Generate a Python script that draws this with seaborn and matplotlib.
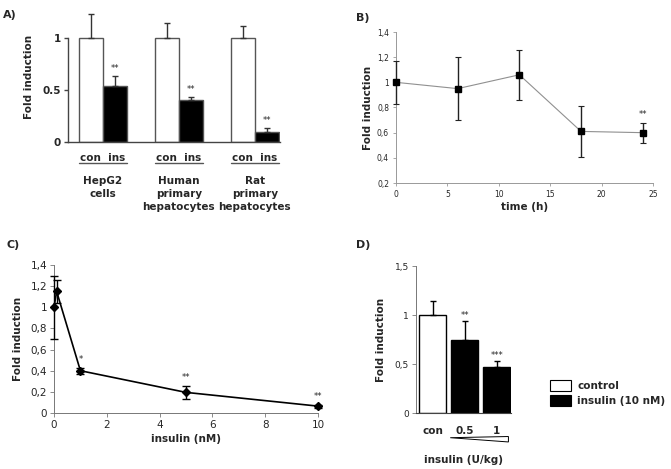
import numpy as np
import pandas as pd
import matplotlib
matplotlib.use('Agg')
import matplotlib.pyplot as plt
import matplotlib.transforms as mtransforms
from matplotlib.patches import Patch, Polygon
from matplotlib.ticker import FuncFormatter
import seaborn as sns

sns.set_style("white")
plt.rcParams['font.family'] = ['DejaVu Sans']

# ── Data ──────────────────────────────────────────────────────────────────────
# A) cell lines, control vs insulin
a_cells = ["HepG2\ncells", "Human\nprimary\nhepatocytes", "Rat\nprimary\nhepatocytes"]
a_con = [1.0, 1.0, 1.0]
a_con_err = [0.23, 0.14, 0.12]
a_ins = [0.54, 0.40, 0.10]
a_ins_err = [0.09, 0.03, 0.03]

# B) time course
b_time = [0, 6, 12, 18, 24]
b_fold = [1.0, 0.95, 1.06, 0.61, 0.60]
b_err = [0.17, 0.25, 0.20, 0.20, 0.08]

# C) insulin dose
c_dose = [0, 0.1, 1, 5, 10]
c_fold = [1.0, 1.15, 0.40, 0.195, 0.065]
c_err = [0.30, 0.11, 0.03, 0.065, 0.015]
c_stars = {1: "*", 5: "**", 10: "**"}

# D) in vivo
d_groups = ["con", "0.5", "1"]
d_fold = [1.0, 0.75, 0.47]
d_err = [0.14, 0.19, 0.06]
d_stars = ["", "**", "***"]

comma = FuncFormatter(lambda v, p: f"{v:g}".replace(".", ","))

fig = plt.figure(figsize=(6.71, 4.69), dpi=100)
fig.patch.set_facecolor("white")
W, H = 671, 469

def px_axes(x0, y0, x1, y1):
    # pixel box (top-left origin) -> figure axes
    return fig.add_axes([x0 / W, 1 - y1 / H, (x1 - x0) / W, (y1 - y0) / H])

# ── A ─────────────────────────────────────────────────────────────────────────
axA = px_axes(68, 12, 280, 142)
dfA = pd.DataFrame({
    "cell": a_cells * 2,
    "treat": ["con"] * 3 + ["ins"] * 3,
    "fold": a_con + a_ins,
})
sns.barplot(data=dfA, x="cell", y="fold", hue="treat", order=a_cells,
            hue_order=["con", "ins"], palette={"con": "white", "ins": "black"},
            edgecolor="#555555", linewidth=1, width=0.63, gap=0,
            errorbar=None, legend=False, ax=axA)
for cont, errs in zip(axA.containers, [a_con_err, a_ins_err]):
    for bar, e in zip(cont, errs):
        xc = bar.get_x() + bar.get_width() / 2
        h = bar.get_height()
        axA.errorbar(xc, h, yerr=[[0], [e]], fmt="none", ecolor="#333333",
                     elinewidth=1, capsize=2.5, capthick=1)
        if cont is axA.containers[1]:
            axA.text(xc, h + e + 0.03, "**", ha="center", va="bottom", fontsize=6)
axA.set_xlim(-0.454, 2.33)
axA.set_ylim(0, 1.25)
axA.set_yticks([0, 0.5, 1])
axA.set_yticklabels(["0", "0.5", "1"], fontweight="bold", fontsize=7.5)
axA.set_xticks([])
axA.set_xlabel("")
axA.set_ylabel("Fold induction", fontweight="bold", fontsize=7.5)
axA.yaxis.labelpad = 6
for s in ["top", "right"]:
    axA.spines[s].set_visible(False)
axA.spines["left"].set_bounds(0, 1)
for s in ["left", "bottom"]:
    axA.spines[s].set_color("#444444")
    axA.spines[s].set_linewidth(1)
axA.tick_params(axis="y", left=True, length=3, width=1, color="#444444", pad=2)
trA = mtransforms.blended_transform_factory(axA.transData, axA.transAxes)
for i, name in enumerate(a_cells):
    axA.text(i, -0.123, "con  ins", transform=trA, ha="center", va="center",
             fontweight="bold", fontsize=7.5)
    axA.plot([i - 0.316, i + 0.316], [-0.165, -0.165], transform=trA,
             color="#555555", lw=1, clip_on=False)
    axA.text(i, -0.265, name, transform=trA, ha="center", va="top",
             fontweight="bold", fontsize=7.5, linespacing=1.35)

# ── B ─────────────────────────────────────────────────────────────────────────
axB = px_axes(396, 32, 653, 183)
dfB = pd.DataFrame({"time": b_time, "fold": b_fold})
sns.lineplot(data=dfB, x="time", y="fold", color="#909090", lw=0.8, ax=axB)
axB.errorbar(b_time, b_fold, yerr=b_err, fmt="s", color="black", ms=4.5,
             ecolor="#222222", elinewidth=1, capsize=2.5, capthick=0.8,
             clip_on=False, zorder=5)
axB.text(24, b_fold[-1] + b_err[-1] + 0.03, "**", ha="center", va="bottom", fontsize=6)
axB.set_xlim(0, 25)
axB.set_ylim(0.2, 1.4)
axB.set_xticks([0, 5, 10, 15, 20, 25])
axB.set_yticks([0.2, 0.4, 0.6, 0.8, 1.0, 1.2, 1.4])
axB.yaxis.set_major_formatter(comma)
axB.tick_params(labelsize=5.5, length=2, width=0.6, color="#999999",
                left=True, bottom=True, pad=3)
axB.set_xlabel("time (h)", fontweight="bold", fontsize=7.5, labelpad=2)
axB.set_ylabel("Fold induction", fontweight="bold", fontsize=7.5, labelpad=3)
for s in ["top", "right"]:
    axB.spines[s].set_visible(False)
for s in ["left", "bottom"]:
    axB.spines[s].set_color("#999999")
    axB.spines[s].set_linewidth(0.7)

# ── C ─────────────────────────────────────────────────────────────────────────
axC = px_axes(54, 265, 318, 413)
dfC = pd.DataFrame({"dose": c_dose, "fold": c_fold})
sns.lineplot(data=dfC, x="dose", y="fold", color="black", lw=1.2, ax=axC)
axC.errorbar(c_dose, c_fold, yerr=c_err, fmt="D", color="black", ms=4,
             ecolor="black", elinewidth=1, capsize=3, capthick=1,
             clip_on=False, zorder=5)
for xv, st in c_stars.items():
    i = c_dose.index(xv)
    axC.text(xv, c_fold[i] + c_err[i] + 0.03, st, ha="center", va="bottom", fontsize=6)
axC.set_xlim(0, 10)
axC.set_ylim(0, 1.4)
axC.set_xticks([0, 2, 4, 6, 8, 10])
axC.set_yticks([0, 0.2, 0.4, 0.6, 0.8, 1.0, 1.2, 1.4])
axC.yaxis.set_major_formatter(comma)
axC.tick_params(labelsize=7.5, length=3, width=0.6, color="#777777",
                left=True, bottom=True, pad=2)
axC.set_xlabel("insulin (nM)", fontweight="bold", fontsize=7.5, labelpad=3)
axC.set_ylabel("Fold induction", fontweight="bold", fontsize=7.5, labelpad=5)
for s in ["top", "right"]:
    axC.spines[s].set_visible(False)
for s in ["left", "bottom"]:
    axC.spines[s].set_color("#777777")
    axC.spines[s].set_linewidth(0.7)

# ── D ─────────────────────────────────────────────────────────────────────────
axD = px_axes(416, 266, 511, 413)
dfD = pd.DataFrame({"group": d_groups, "fold": d_fold})
sns.barplot(data=dfD, x="group", y="fold", hue="group", order=d_groups,
            palette={"con": "white", "0.5": "black", "1": "black"},
            edgecolor="black", linewidth=1, width=0.84,
            errorbar=None, legend=False, ax=axD)
bars = [b for c in axD.containers for b in c]
for bar, e, st in zip(bars, d_err, d_stars):
    xc = bar.get_x() + bar.get_width() / 2
    h = bar.get_height()
    axD.errorbar(xc, h, yerr=[[0], [e]], fmt="none", ecolor="black",
                 elinewidth=1, capsize=2.5, capthick=1)
    if st:
        axD.text(xc, h + e + 0.01, st, ha="center", va="bottom", fontsize=6)
axD.set_xlim(-0.516, 2.44)
axD.set_ylim(0, 1.5)
axD.set_yticks([0, 0.5, 1, 1.5])
axD.yaxis.set_major_formatter(comma)
axD.set_xticks(range(3))
axD.set_xticklabels(d_groups, fontweight="bold", fontsize=7.5)
axD.tick_params(axis="y", labelsize=6.5, length=3, width=0.6, color="#777777",
                left=True, pad=2)
axD.tick_params(axis="x", length=0, pad=9)
for lab in axD.get_yticklabels():
    lab.set_family(["Liberation Sans Narrow", "DejaVu Sans"])
axD.set_xlabel("insulin (U/kg)", fontweight="bold", fontsize=7.5, labelpad=14)
axD.set_ylabel("Fold induction", fontweight="bold", fontsize=7.5, labelpad=6)
for s in ["top", "right"]:
    axD.spines[s].set_visible(False)
axD.spines["left"].set_color("#777777")
axD.spines["left"].set_linewidth(0.7)
axD.spines["bottom"].set_color("#444444")
trD = mtransforms.blended_transform_factory(axD.transData, axD.transAxes)
axD.add_patch(Polygon([[0.55, -0.168], [2.36, -0.160], [2.36, -0.197]],
                      closed=True, facecolor="white", edgecolor="black",
                      lw=0.7, transform=trD, clip_on=False))

fig.legend(handles=[Patch(facecolor="white", edgecolor="black", lw=0.8),
                    Patch(facecolor="black", edgecolor="black", lw=0.8)],
           labels=["control", "insulin (10 nM)"], loc="upper left",
           bbox_to_anchor=(550 / W, 1 - 380 / H), frameon=False,
           prop={"weight": "bold", "size": 7.5}, handlelength=2.0,
           handleheight=1.3, labelspacing=0.35, handletextpad=0.6,
           borderaxespad=0, borderpad=0)

# panel letters
for lbl, x, y in [("A)", 10, 15), ("B)", 363, 18), ("C)", 13, 245), ("D)", 363, 245)]:
    fig.text(x / W, 1 - y / H, lbl, fontweight="bold", fontsize=8, ha="center", va="center")

fig.savefig("out.png", dpi=100, facecolor="white")
